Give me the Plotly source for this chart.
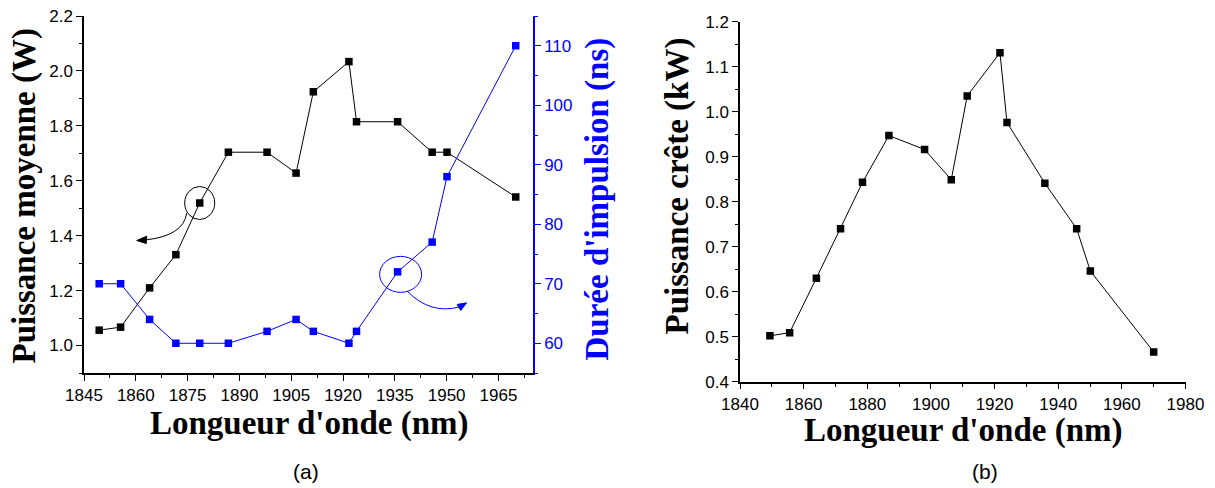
import plotly.graph_objects as go

# ---------------- data ----------------
wavelength_nm = [1849.4, 1855.6, 1864.0, 1871.6, 1878.5, 1886.8, 1898.0, 1906.4,
                 1911.4, 1921.7, 1923.9, 1935.8, 1945.8, 1950.1, 1970.0]
avg_power_W = [1.056, 1.067, 1.210, 1.331, 1.519, 1.704, 1.704, 1.628,
               1.924, 2.034, 1.815, 1.815, 1.704, 1.704, 1.541]
pulse_ns = [70, 70, 64, 60, 60, 60, 62, 64, 62, 60, 62, 72, 77, 88, 110]
peak_power_kW = [0.502, 0.509, 0.630, 0.740, 0.843, 0.947, 0.916, 0.849,
                 1.035, 1.131, 0.976, 0.841, 0.740, 0.646, 0.466]

xa_ticks = [1845, 1860, 1875, 1890, 1905, 1920, 1935, 1950, 1965]
ya_ticks = [1.0, 1.2, 1.4, 1.6, 1.8, 2.0, 2.2]
y2a_ticks = [60, 70, 80, 90, 100, 110]
xb_ticks = [1840, 1860, 1880, 1900, 1920, 1940, 1960, 1980]
yb_ticks = [0.4, 0.5, 0.6, 0.7, 0.8, 0.9, 1.0, 1.1, 1.2]

W, H = 1215, 488
BLUE = "#0000FF"
TICKFONT = dict(family="Liberation Sans, Arial", size=17, color="black")
TITLEFONT = dict(family="Liberation Serif, Times New Roman", size=33, color="black")


def px(x):
    return x / W


def py(y):
    return 1 - y / H


dom_a_x = [px(84), px(533)]
dom_a_y = [py(373), py(16)]
dom_b_x = [px(740), px(1185.5)]
dom_b_y = [py(381.7), py(21.7)]

fig = go.Figure()

fig.add_trace(go.Scatter(x=wavelength_nm, y=avg_power_W, xaxis="x", yaxis="y",
                         mode="lines+markers", line=dict(color="black", width=1),
                         marker=dict(symbol="square", size=7.5, color="black"),
                         showlegend=False))
fig.add_trace(go.Scatter(x=wavelength_nm, y=pulse_ns, xaxis="x", yaxis="y2",
                         mode="lines+markers", line=dict(color=BLUE, width=1),
                         marker=dict(symbol="square", size=7.5, color=BLUE),
                         showlegend=False))
fig.add_trace(go.Scatter(x=wavelength_nm, y=peak_power_kW, xaxis="x3", yaxis="y3",
                         mode="lines+markers", line=dict(color="black", width=1),
                         marker=dict(symbol="square", size=7.5, color="black"),
                         showlegend=False))

common = dict(showgrid=False, zeroline=False, showline=True, linewidth=1.5,
              tickwidth=1.2, ticklen=6, tickfont=TICKFONT, automargin=False,
              ticklabeloverflow="allow")

fig.update_layout(
    template="none",
    width=W, height=H, margin=dict(l=0, r=0, t=0, b=0, pad=0),
    paper_bgcolor="white", plot_bgcolor="white",
    xaxis=dict(domain=dom_a_x, anchor="y", range=[1845, 1975], tickvals=xa_ticks,
               ticks="outside", linecolor="black", tickcolor="black",
               minor=dict(dtick=7.5, tick0=1845, ticks="outside", ticklen=3.5,
                          tickwidth=1.2, tickcolor="black"), **common),
    xaxis2=dict(domain=dom_a_x, anchor="y", overlaying="x", side="top",
                range=[1845, 1975], tickvals=xa_ticks, ticks="inside",
                showticklabels=False, linecolor=BLUE, tickcolor=BLUE,
                minor=dict(dtick=7.5, tick0=1845, ticks="inside", ticklen=3.5,
                           tickwidth=1.2, tickcolor=BLUE), **common),
    yaxis=dict(domain=dom_a_y, anchor="x", range=[0.9, 2.2], tickvals=ya_ticks,
               tickformat=".1f", ticks="outside", linecolor="black", tickcolor="black",
               minor=dict(dtick=0.1, tick0=0.9, ticks="outside", ticklen=3.5,
                          tickwidth=1.2, tickcolor="black"), **common),
    yaxis2=dict(domain=dom_a_y, anchor="x", overlaying="y", side="right",
                range=[55, 115], tickvals=y2a_ticks, ticks="outside",
                linecolor=BLUE, tickcolor=BLUE,
                minor=dict(dtick=5, tick0=55, ticks="outside", ticklen=3.5,
                           tickwidth=1.2, tickcolor=BLUE),
                **{**common, "tickfont": dict(TICKFONT, color=BLUE)}),
    xaxis3=dict(domain=dom_b_x, anchor="y3", range=[1840, 1980], tickvals=xb_ticks,
                ticks="outside", linecolor="black", tickcolor="black",
                minor=dict(dtick=10, tick0=1840, ticks="outside", ticklen=3.5,
                           tickwidth=1.2, tickcolor="black"), **common),
    xaxis4=dict(domain=dom_b_x, anchor="y3", overlaying="x3", side="top",
                range=[0, 5], dtick=1, ticks="inside", showticklabels=False,
                linecolor="black", tickcolor="black",
                minor=dict(dtick=0.5, ticks="inside", ticklen=3.5, tickwidth=1.2,
                           tickcolor="black"), **common),
    yaxis3=dict(domain=dom_b_y, anchor="x3", range=[0.4, 1.2], tickvals=yb_ticks,
                tickformat=".1f", ticks="outside", linecolor="black", tickcolor="black",
                minor=dict(dtick=0.05, tick0=0.4, ticks="outside", ticklen=3.5,
                           tickwidth=1.2, tickcolor="black"), **common),
    yaxis4=dict(domain=dom_b_y, anchor="x3", overlaying="y3", side="right",
                range=[0, 5], dtick=1, ticks="inside", showticklabels=False,
                linecolor="black", tickcolor="black",
                minor=dict(dtick=0.5, ticks="inside", ticklen=3.5, tickwidth=1.2,
                           tickcolor="black"), **common),
)

# ---------------- titles ----------------
def title(text, x, y, angle=0, color="black"):
    fig.add_annotation(text=text, x=px(x), y=py(y), xref="paper", yref="paper",
                       xanchor="center", yanchor="middle", showarrow=False,
                       textangle=angle, font=dict(TITLEFONT, color=color))

title("<b>Longueur d'onde (nm)</b>", 308.5, 423)
title("<b>Longueur d'onde (nm)</b>", 962.7, 430)
title("<b>Puissance moyenne (W)</b>", 24, 196.5, angle=-90)
title("<b>Durée d'impulsion (ns)</b>", 597, 199.5, angle=-90, color=BLUE)
title("<b>Puissance crête (kW)</b>", 677.5, 186, angle=-90)

for lab, x in (("(a)", 306), ("(b)", 985)):
    fig.add_annotation(text=lab, x=px(x), y=py(471), xref="paper", yref="paper",
                       xanchor="center", yanchor="middle", showarrow=False,
                       font=dict(family="Liberation Sans, Arial", size=21, color="black"))

# ---------------- circle + curved arrow markers (pixel offsets around points) ----------------
i_b, i_u = 4, 11
fig.add_shape(type="circle", xref="x", yref="y", xsizemode="pixel", ysizemode="pixel",
              xanchor=wavelength_nm[i_b], yanchor=avg_power_W[i_b],
              x0=-15, x1=15, y0=-16.5, y1=16.5, line=dict(color="black", width=1))
fig.add_shape(type="path", xref="x", yref="y", xsizemode="pixel", ysizemode="pixel",
              xanchor=wavelength_nm[i_b], yanchor=avg_power_W[i_b],
              path="M -13 -10 Q -16 -33 -55 -37", line=dict(color="black", width=1))
fig.add_shape(type="path", xref="x", yref="y", xsizemode="pixel", ysizemode="pixel",
              xanchor=wavelength_nm[i_b], yanchor=avg_power_W[i_b],
              path="M -63 -37.5 L -53 -33.2 L -53.5 -40.5 Z",
              fillcolor="black", line=dict(color="black", width=1))

fig.add_shape(type="circle", xref="x", yref="y2", xsizemode="pixel", ysizemode="pixel",
              xanchor=wavelength_nm[i_u], yanchor=pulse_ns[i_u],
              x0=-18, x1=24, y0=-20.5, y1=15.5, line=dict(color=BLUE, width=1))
fig.add_shape(type="path", xref="x", yref="y2", xsizemode="pixel", ysizemode="pixel",
              xanchor=wavelength_nm[i_u], yanchor=pulse_ns[i_u],
              path="M 9.7 -19.4 Q 33 -43 62 -35", line=dict(color=BLUE, width=1))
fig.add_shape(type="path", xref="x", yref="y2", xsizemode="pixel", ysizemode="pixel",
              xanchor=wavelength_nm[i_u], yanchor=pulse_ns[i_u],
              path="M 69 -31 L 59.5 -32.6 L 63.1 -38.6 Z",
              fillcolor=BLUE, line=dict(color=BLUE, width=1))

fig.write_html("out.html", config={"displayModeBar": False},
               post_script="document.body.style.margin='0';document.body.style.overflow='hidden';")
